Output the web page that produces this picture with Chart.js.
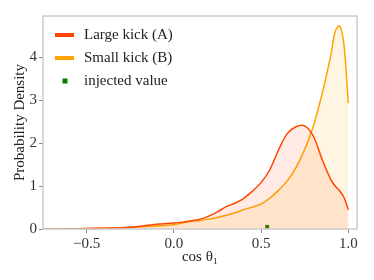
<!DOCTYPE html>
<html>
<head>
<meta charset="utf-8">
<script src="https://cdn.jsdelivr.net/npm/chart.js@4"></script>
<style>
html,body{margin:0;padding:0;background:#fff;}
#wrap{width:374px;height:280px;position:relative;}
</style>
</head>
<body>
<div id="wrap"><canvas id="c" width="374" height="280"></canvas></div>
<script>
// ---- data ----
const xGrid = [-0.75,-0.7,-0.6,-0.5,-0.4,-0.3,-0.2,-0.1,0.0,0.05,0.1,0.15,0.2,0.25,0.3,0.35,0.4,0.45,0.5,0.55,0.6,0.65,0.7,0.75,0.8,0.85,0.9,0.925,0.95,0.975,1.0];
const largeKick = [0.0,0.0,0.005,0.01,0.02,0.03,0.06,0.11,0.14,0.16,0.19,0.23,0.30,0.40,0.52,0.60,0.71,0.88,1.08,1.38,1.84,2.22,2.38,2.40,2.16,1.62,1.15,1.00,0.89,0.74,0.45];
const smallKick = [0.0,0.0,0.005,0.01,0.015,0.03,0.05,0.07,0.10,0.14,0.18,0.20,0.23,0.27,0.32,0.38,0.45,0.51,0.58,0.72,0.90,1.12,1.43,1.85,2.40,3.15,4.05,4.60,4.73,4.30,2.93];
const injectedX = [0.535];
const injectedY = [0.05];
const seriesLabels = ['Large kick (A)','Small kick (B)','injected value'];
const xTicks = [-0.5,0.0,0.5,1.0];
const yTicks = [0,1,2,3,4];

const FONT = '"Liberation Serif", "DejaVu Serif", serif';
const toPts = (xs, ys) => xs.map((x,i)=>({x:x,y:ys[i]}));

const frame = {
  id:'frame',
  afterDatasetsDraw(chart){
    const {ctx, chartArea:a} = chart;
    ctx.save();
    ctx.strokeStyle = '#cccccc';
    ctx.lineWidth = 1.5;
    ctx.strokeRect(a.left, a.top, a.right-a.left, a.bottom-a.top);
    ctx.restore();
  },
  afterDraw(chart){
    const {ctx, chartArea:a} = chart;
    const ds = chart.data.datasets;
    ctx.save();
    ctx.font = '15px ' + FONT;
    ctx.textBaseline = 'middle';
    ctx.fillStyle = '#222';
    const x0 = a.left + 12, rowH = 23, y0 = a.top + 19;
    ds.forEach((d,i)=>{
      const y = y0 + i*rowH;
      if (d.showLine === false) {
        ctx.fillStyle = d.backgroundColor;
        ctx.fillRect(x0+7.5, y-2.5, 5, 5);
      } else {
        ctx.strokeStyle = d.borderColor;
        ctx.lineWidth = 4;
        ctx.beginPath(); ctx.moveTo(x0, y); ctx.lineTo(x0+19, y); ctx.stroke();
      }
      ctx.fillStyle = '#222';
      ctx.fillText(d.label, x0+29, y);
    });
    ctx.restore();
  }
};

new Chart(document.getElementById('c'), {
  type:'line',
  data:{
    datasets:[
      {label:seriesLabels[0], data:toPts(xGrid,largeKick), borderColor:'#FF4500', backgroundColor:'rgba(255,69,0,0.11)', borderWidth:1.5, pointRadius:0, fill:'origin', tension:0.35},
      {label:seriesLabels[1], data:toPts(xGrid,smallKick), borderColor:'#FFA500', backgroundColor:'rgba(255,165,0,0.11)', borderWidth:1.5, pointRadius:0, fill:'origin', tension:0.35},
      {label:seriesLabels[2], data:toPts(injectedX,injectedY), showLine:false, pointStyle:'rect', pointRadius:2.8, backgroundColor:'#008000', borderColor:'#008000', borderWidth:0}
    ]
  },
  options:{
    responsive:false, animation:false,
    layout:{padding:{top:16, right:17, left:11, bottom:14}},
    plugins:{legend:{display:false}, tooltip:{enabled:false}},
    scales:{
      x:{
        type:'linear', min:-0.75, max:1.05,
        afterBuildTicks(s){ s.ticks = xTicks.map(v=>({value:v})); },
        afterFit(s){ s.height = 37; },
        grid:{drawOnChartArea:false, drawTicks:true, tickLength:4, color:'#888'},
        border:{display:false},
        ticks:{font:{family:FONT,size:15}, color:'#333', padding:2,
          callback:(v)=> (v<0?'\u2212':'') + Math.abs(v).toFixed(1)},
        title:{display:true, text:'cos θ\u2081', font:{family:FONT,size:15}, color:'#222', padding:{top:0,bottom:0}}
      },
      y:{
        min:0, max:4.96,
        afterBuildTicks(s){ s.ticks = yTicks.map(v=>({value:v})); },
        afterFit(s){ s.width = 32; },
        grid:{drawOnChartArea:false, drawTicks:true, tickLength:4, color:'#888'},
        border:{display:false},
        ticks:{font:{family:FONT,size:15}, color:'#333', padding:2, callback:(v)=>String(v)},
        title:{display:true, text:'Probability Density', font:{family:FONT,size:15}, color:'#222', padding:{top:0,bottom:0}}
      }
    }
  },
  plugins:[frame]
});
</script>
</body>
</html>
